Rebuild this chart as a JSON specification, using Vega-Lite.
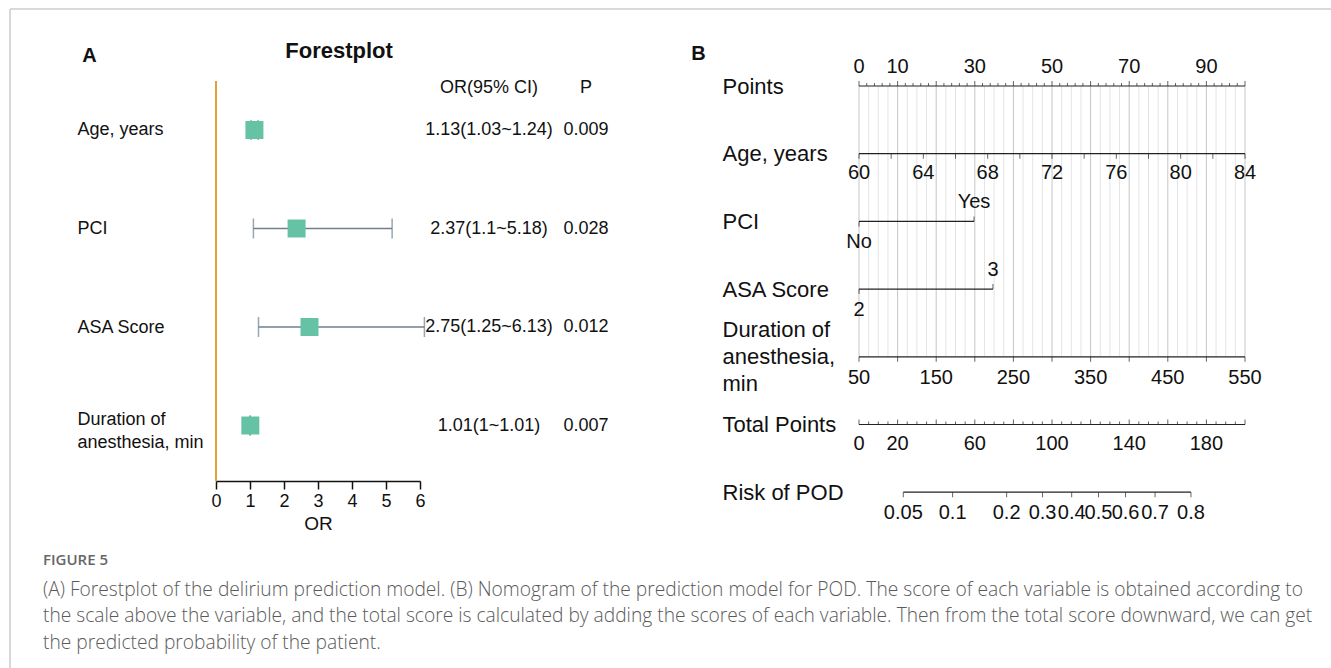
{
  "$schema": "https://vega.github.io/schema/vega-lite/v6.json",
  "padding": {"left": 9, "top": 8, "right": 0, "bottom": 0},
  "background": "white",
  "bounds": "flush",
  "spacing": 0,
  "config": {
    "view": {"stroke": null},
    "font": "Liberation Sans",
    "text": {"font": "Liberation Sans", "color": "#111111"},
    "axis": {"grid": false, "labelFont": "Liberation Sans", "titleFont": "Liberation Sans"}
  },
  "datasets": {
    "forest": [
      {"row": 1, "variable": "Age, years", "or": 1.13, "lo": 1.03, "hi": 1.24, "ci": "1.13(1.03~1.24)", "p": "0.009"},
      {"row": 2, "variable": "PCI", "or": 2.37, "lo": 1.1, "hi": 5.18, "ci": "2.37(1.1~5.18)", "p": "0.028"},
      {"row": 3, "variable": "ASA Score", "or": 2.75, "lo": 1.25, "hi": 6.13, "ci": "2.75(1.25~6.13)", "p": "0.012"},
      {"row": 4, "variable": "Duration of anesthesia, min", "or": 1.01, "lo": 1.0, "hi": 1.01, "ci": "1.01(1~1.01)", "p": "0.007"}
    ],
    "header": [{"col": "ci", "label": "OR(95% CI)"}, {"col": "p", "label": "P"}],
    "gridMinor": [{"v": 2.5}, {"v": 5}, {"v": 7.5}, {"v": 12.5}, {"v": 15}, {"v": 17.5}, {"v": 22.5}, {"v": 25}, {"v": 27.5}, {"v": 32.5}, {"v": 35}, {"v": 37.5}, {"v": 42.5}, {"v": 45}, {"v": 47.5}, {"v": 52.5}, {"v": 55}, {"v": 57.5}, {"v": 62.5}, {"v": 65}, {"v": 67.5}, {"v": 72.5}, {"v": 75}, {"v": 77.5}, {"v": 82.5}, {"v": 85}, {"v": 87.5}, {"v": 92.5}, {"v": 95}, {"v": 97.5}],
    "ptsMajor": [{"v": 0}, {"v": 10}, {"v": 20}, {"v": 30}, {"v": 40}, {"v": 50}, {"v": 60}, {"v": 70}, {"v": 80}, {"v": 90}, {"v": 100}],
    "ptsMinor": [{"v": 2}, {"v": 4}, {"v": 6}, {"v": 8}, {"v": 12}, {"v": 14}, {"v": 16}, {"v": 18}, {"v": 22}, {"v": 24}, {"v": 26}, {"v": 28}, {"v": 32}, {"v": 34}, {"v": 36}, {"v": 38}, {"v": 42}, {"v": 44}, {"v": 46}, {"v": 48}, {"v": 52}, {"v": 54}, {"v": 56}, {"v": 58}, {"v": 62}, {"v": 64}, {"v": 66}, {"v": 68}, {"v": 72}, {"v": 74}, {"v": 76}, {"v": 78}, {"v": 82}, {"v": 84}, {"v": 86}, {"v": 88}, {"v": 92}, {"v": 94}, {"v": 96}, {"v": 98}],
    "ptsLabels": [{"v": 0}, {"v": 10}, {"v": 30}, {"v": 50}, {"v": 70}, {"v": 90}],
    "catBase": [{"row": 2, "level": "No", "pts": 0}, {"row": 3, "level": "2", "pts": 0}],
    "catTop": [{"row": 2, "level": "Yes", "pts": 29.8}, {"row": 3, "level": "3", "pts": 34.7}],
    "ageTicks": [{"v": 60}, {"v": 62}, {"v": 64}, {"v": 66}, {"v": 68}, {"v": 70}, {"v": 72}, {"v": 74}, {"v": 76}, {"v": 78}, {"v": 80}, {"v": 82}, {"v": 84}],
    "ageLabels": [{"v": 60}, {"v": 64}, {"v": 68}, {"v": 72}, {"v": 76}, {"v": 80}, {"v": 84}],
    "durTicks": [{"v": 50}, {"v": 100}, {"v": 150}, {"v": 200}, {"v": 250}, {"v": 300}, {"v": 350}, {"v": 400}, {"v": 450}, {"v": 500}, {"v": 550}],
    "durLabels": [{"v": 50}, {"v": 150}, {"v": 250}, {"v": 350}, {"v": 450}, {"v": 550}],
    "totMinor": [{"v": 5}, {"v": 10}, {"v": 15}, {"v": 25}, {"v": 30}, {"v": 35}, {"v": 45}, {"v": 50}, {"v": 55}, {"v": 65}, {"v": 70}, {"v": 75}, {"v": 85}, {"v": 90}, {"v": 95}, {"v": 105}, {"v": 110}, {"v": 115}, {"v": 125}, {"v": 130}, {"v": 135}, {"v": 145}, {"v": 150}, {"v": 155}, {"v": 165}, {"v": 170}, {"v": 175}, {"v": 185}, {"v": 190}, {"v": 195}],
    "totMajor": [{"v": 0}, {"v": 20}, {"v": 40}, {"v": 60}, {"v": 80}, {"v": 100}, {"v": 120}, {"v": 140}, {"v": 160}, {"v": 180}, {"v": 200}],
    "totLabels": [{"v": 0}, {"v": 20}, {"v": 60}, {"v": 100}, {"v": 140}, {"v": 180}],
    "risk": [
      {"p": "0.05", "tp": 22.95}, {"p": "0.1", "tp": 48.5}, {"p": "0.2", "tp": 76.5}, {"p": "0.3", "tp": 95.1}, {"p": "0.4", "tp": 110.2},
      {"p": "0.5", "tp": 124.1}, {"p": "0.6", "tp": 138.1}, {"p": "0.7", "tp": 153.4}, {"p": "0.8", "tp": 172.0}
    ]
  },
  "hconcat": [
    {
      "width": 681,
      "height": 660,
      "title": {
        "text": "FIGURE 5",
        "subtitle": [
          "(A) Forestplot of the delirium prediction model. (B) Nomogram of the prediction model for POD. The score of each variable is obtained according to",
          "the scale above the variable, and the total score is calculated by adding the scores of each variable. Then from the total score downward, we can get",
          "the predicted probability of the patient."
        ],
        "orient": "bottom", "anchor": "start", "frame": "group", "offset": -117, "dx": 33,
        "baseline": "top", "font": "Open Sans", "fontSize": 15, "fontWeight": 600, "color": "#666666",
        "subtitleFont": "Open Sans", "subtitleFontSize": 19.2, "subtitleFontWeight": 300, "subtitleColor": "#5a5a5a", "subtitleLineHeight": 26.5, "subtitlePadding": 13
      },
      "layer": [
        {
          "data": {"name": "forest"},
          "layer": [
            {
              "mark": {"type": "rule", "color": "#6F7F8E", "strokeWidth": 1.5},
              "encoding": {
                "x": {"field": "lo", "type": "quantitative",
                  "scale": {"domain": [0, 6], "range": [206, 410], "nice": false, "zero": false},
                  "axis": {"values": [0, 1, 2, 3, 4, 5, 6], "format": "d", "title": "OR", "offset": -188, "tickSize": 8, "tickWidth": 1.5, "tickColor": "#111111", "domainColor": "#111111", "domainWidth": 1.5, "labelFontSize": 18, "labelColor": "#111111", "labelPadding": 3, "labelFlush": false, "labelOverlap": false, "titleFontSize": 19, "titleFontWeight": "normal", "titleColor": "#111111", "titlePadding": 4, "grid": false}},
                "x2": {"field": "hi"},
                "y": {"field": "row", "type": "quantitative",
                  "scale": {"domain": [-0.2284, 6.472], "reverse": true, "nice": false, "zero": false},
                  "axis": {"values": [1, 2, 3, 3.934],
                    "labelExpr": "datum.value < 1.5 ? 'Age, years' : datum.value < 2.5 ? 'PCI' : datum.value < 3.5 ? 'ASA Score' : ['Duration of', 'anesthesia, min']",
                    "labelAlign": "left", "labelBaseline": "middle", "labelPadding": -67, "labelFontSize": 18, "labelColor": "#111111", "labelLineHeight": 23,
                    "labelOverlap": false, "labelFlush": false, "labelBound": false, "ticks": false, "domain": false, "grid": false,
                    "title": "A", "titleAngle": 0, "titleX": 79, "titleY": 46, "titleAlign": "center", "titleBaseline": "middle", "titleFontSize": 20, "titleFontWeight": "bold", "titleColor": "#111111"}}
              }
            },
            {
              "data": {"values": [{}]},
              "mark": {"type": "rule", "color": "#E1A13A", "strokeWidth": 2},
              "encoding": {
                "x": {"datum": 0, "type": "quantitative"},
                "y": {"datum": 0.503, "type": "quantitative"},
                "y2": {"datum": 4.563}
              }
            },
            {
              "mark": {"type": "tick", "orient": "vertical", "size": 20, "thickness": 1.5, "color": "#6F7F8E"},
              "encoding": {"x": {"field": "lo", "type": "quantitative"}, "y": {"field": "row", "type": "quantitative"}}
            },
            {
              "mark": {"type": "tick", "orient": "vertical", "size": 20, "thickness": 1.5, "color": "#6F7F8E"},
              "encoding": {"x": {"field": "hi", "type": "quantitative"}, "y": {"field": "row", "type": "quantitative"}}
            },
            {
              "mark": {"type": "point", "shape": "square", "filled": true, "size": 324, "color": "#66C2A5", "opacity": 1},
              "encoding": {"x": {"field": "or", "type": "quantitative"}, "y": {"field": "row", "type": "quantitative"}}
            },
            {
              "data": {"values": [{}]},
              "mark": {"type": "text", "text": "Forestplot", "fontSize": 22, "fontWeight": "bold"},
              "encoding": {"x": {"datum": 3.62, "type": "quantitative"}, "y": {"datum": 0.198, "type": "quantitative"}}
            }
          ]
        },
        {
          "layer": [
            {
              "data": {"name": "header"},
              "mark": {"type": "text", "fontSize": 18},
              "encoding": {
                "x": {"field": "col", "type": "nominal", "scale": {"type": "point", "domain": ["ci", "p"], "range": [479, 576], "padding": 0}, "axis": null},
                "y": {"datum": 0.574, "type": "quantitative"},
                "text": {"field": "label", "type": "nominal"}
              }
            },
            {
              "data": {"name": "forest"},
              "mark": {"type": "text", "fontSize": 18},
              "encoding": {
                "x": {"datum": "ci", "type": "nominal", "axis": null},
                "y": {"field": "row", "type": "quantitative"},
                "text": {"field": "ci", "type": "nominal"}
              }
            },
            {
              "data": {"name": "forest"},
              "mark": {"type": "text", "fontSize": 18},
              "encoding": {
                "x": {"datum": "p", "type": "nominal", "axis": null},
                "y": {"field": "row", "type": "quantitative"},
                "text": {"field": "p", "type": "nominal"}
              }
            }
          ]
        },
        {
          "data": {"values": [{}]},
          "layer": [
            {"mark": {"type": "rule", "color": "#CCCCCC", "strokeWidth": 1.5}, "encoding": {"x": {"value": 0}}},
            {"mark": {"type": "rule", "color": "#CCCCCC", "strokeWidth": 1.5}, "encoding": {"y": {"value": 0}}}
          ]
        }
      ],
      "resolve": {"scale": {"x": "independent"}, "axis": {"x": "independent"}}
    },
    {
      "width": 641,
      "height": 660,
      "layer": [
        {
          "layer": [
            {
              "data": {"name": "gridMinor"},
              "mark": {"type": "rule", "color": "#E4E4E4", "strokeWidth": 1},
              "encoding": {"x": {"field": "v", "type": "quantitative", "scale": {"domain": [0, 100], "range": [168, 554], "nice": false, "zero": false}, "axis": null}, "y": {"datum": 0, "type": "quantitative"}, "y2": {"datum": 4}}
            },
            {
              "data": {"name": "ptsMajor"},
              "mark": {"type": "rule", "color": "#C6C6C6", "strokeWidth": 1},
              "encoding": {"x": {"field": "v", "type": "quantitative", "axis": null}, "y": {"datum": 0, "type": "quantitative"}, "y2": {"datum": 4}}
            },
            {
              "data": {"values": [{}]},
              "mark": {"type": "rule", "color": "#222222", "strokeWidth": 1.2},
              "encoding": {"x": {"datum": 0, "type": "quantitative", "axis": null}, "x2": {"datum": 100}, "y": {"datum": 0, "type": "quantitative"}}
            },
            {
              "data": {"name": "ptsMajor"},
              "mark": {"type": "tick", "orient": "vertical", "size": 5, "thickness": 1, "color": "#222222", "yOffset": -2.5},
              "encoding": {"x": {"field": "v", "type": "quantitative", "axis": null}, "y": {"datum": 0, "type": "quantitative"}}
            },
            {
              "data": {"name": "ptsMinor"},
              "mark": {"type": "tick", "orient": "vertical", "size": 3, "thickness": 1, "color": "#222222", "yOffset": -1.5},
              "encoding": {"x": {"field": "v", "type": "quantitative", "axis": null}, "y": {"datum": 0, "type": "quantitative"}}
            },
            {
              "data": {"name": "ptsLabels"},
              "mark": {"type": "text", "fontSize": 20, "dy": -19},
              "encoding": {"x": {"field": "v", "type": "quantitative", "axis": null}, "y": {"datum": 0, "type": "quantitative"}, "text": {"field": "v", "type": "quantitative", "format": "d"}}
            },
            {
              "data": {"name": "catTop"},
              "mark": {"type": "rule", "color": "#222222", "strokeWidth": 1.2},
              "encoding": {
                "x": {"field": "pts", "type": "quantitative", "axis": null},
                "x2": {"datum": 0},
                "y": {"field": "row", "type": "quantitative",
                  "scale": {"domain": [-1.1374, 8.6115], "reverse": true, "nice": false, "zero": false},
                  "axis": {"values": [0, 1, 2, 3, 3.604, 5, 6],
                    "labelExpr": "datum.value < 0.5 ? 'Points' : datum.value < 1.5 ? 'Age, years' : datum.value < 2.5 ? 'PCI' : datum.value < 3.3 ? 'ASA Score' : datum.value < 4.5 ? ['Duration of', 'anesthesia,', 'min'] : datum.value < 5.5 ? 'Total Points' : 'Risk of POD'",
                    "labelAlign": "left", "labelBaseline": "middle", "labelPadding": -31, "labelFontSize": 22, "labelColor": "#111111", "labelLineHeight": 27,
                    "labelOverlap": false, "labelFlush": false, "labelBound": false, "ticks": false, "domain": false, "grid": false,
                    "title": "B", "titleAngle": 0, "titleX": 7, "titleY": 44, "titleAlign": "center", "titleBaseline": "middle", "titleFontSize": 20, "titleFontWeight": "bold", "titleColor": "#111111"}}
              }
            },
            {
              "data": {"name": "catBase"},
              "mark": {"type": "tick", "orient": "vertical", "size": 5, "thickness": 1, "color": "#222222", "yOffset": 2.5},
              "encoding": {"x": {"field": "pts", "type": "quantitative", "axis": null}, "y": {"field": "row", "type": "quantitative"}}
            },
            {
              "data": {"name": "catTop"},
              "mark": {"type": "tick", "orient": "vertical", "size": 5, "thickness": 1, "color": "#222222", "yOffset": -2.5},
              "encoding": {"x": {"field": "pts", "type": "quantitative", "axis": null}, "y": {"field": "row", "type": "quantitative"}}
            },
            {
              "data": {"name": "catBase"},
              "mark": {"type": "text", "fontSize": 20, "dy": 21},
              "encoding": {"x": {"field": "pts", "type": "quantitative", "axis": null}, "y": {"field": "row", "type": "quantitative"}, "text": {"field": "level", "type": "nominal"}}
            },
            {
              "data": {"name": "catTop"},
              "mark": {"type": "text", "fontSize": 20, "dy": -19},
              "encoding": {"x": {"field": "pts", "type": "quantitative", "axis": null}, "y": {"field": "row", "type": "quantitative"}, "text": {"field": "level", "type": "nominal"}}
            }
          ]
        },
        {
          "layer": [
            {
              "data": {"name": "ageTicks"},
              "mark": {"type": "tick", "orient": "vertical", "size": 5, "thickness": 1, "color": "#222222", "yOffset": 2.5},
              "encoding": {"x": {"field": "v", "type": "quantitative", "scale": {"domain": [60, 84], "range": [168, 554], "nice": false, "zero": false}, "axis": null}, "y": {"datum": 1, "type": "quantitative"}}
            },
            {
              "data": {"values": [{}]},
              "mark": {"type": "rule", "color": "#222222", "strokeWidth": 1.2},
              "encoding": {"x": {"datum": 60, "type": "quantitative", "axis": null}, "x2": {"datum": 84}, "y": {"datum": 1, "type": "quantitative"}}
            },
            {
              "data": {"name": "ageLabels"},
              "mark": {"type": "text", "fontSize": 20, "dy": 19},
              "encoding": {"x": {"field": "v", "type": "quantitative", "axis": null}, "y": {"datum": 1, "type": "quantitative"}, "text": {"field": "v", "type": "quantitative", "format": "d"}}
            }
          ]
        },
        {
          "layer": [
            {
              "data": {"name": "durTicks"},
              "mark": {"type": "tick", "orient": "vertical", "size": 5, "thickness": 1, "color": "#222222", "yOffset": 2.5},
              "encoding": {"x": {"field": "v", "type": "quantitative", "scale": {"domain": [50, 550], "range": [168, 554], "nice": false, "zero": false}, "axis": null}, "y": {"datum": 4, "type": "quantitative"}}
            },
            {
              "data": {"values": [{}]},
              "mark": {"type": "rule", "color": "#222222", "strokeWidth": 1.2},
              "encoding": {"x": {"datum": 50, "type": "quantitative", "axis": null}, "x2": {"datum": 550}, "y": {"datum": 4, "type": "quantitative"}}
            },
            {
              "data": {"name": "durLabels"},
              "mark": {"type": "text", "fontSize": 20, "dy": 21},
              "encoding": {"x": {"field": "v", "type": "quantitative", "axis": null}, "y": {"datum": 4, "type": "quantitative"}, "text": {"field": "v", "type": "quantitative", "format": "d"}}
            }
          ]
        },
        {
          "layer": [
            {
              "data": {"name": "totMajor"},
              "mark": {"type": "tick", "orient": "vertical", "size": 5, "thickness": 1, "color": "#222222", "yOffset": -2.5},
              "encoding": {"x": {"field": "v", "type": "quantitative", "scale": {"domain": [0, 200], "range": [168, 554], "nice": false, "zero": false}, "axis": null}, "y": {"datum": 5, "type": "quantitative"}}
            },
            {
              "data": {"values": [{}]},
              "mark": {"type": "rule", "color": "#222222", "strokeWidth": 1.2},
              "encoding": {"x": {"datum": 0, "type": "quantitative", "axis": null}, "x2": {"datum": 200}, "y": {"datum": 5, "type": "quantitative"}}
            },
            {
              "data": {"name": "totMinor"},
              "mark": {"type": "tick", "orient": "vertical", "size": 3, "thickness": 1, "color": "#222222", "yOffset": -1.5},
              "encoding": {"x": {"field": "v", "type": "quantitative", "axis": null}, "y": {"datum": 5, "type": "quantitative"}}
            },
            {
              "data": {"name": "totLabels"},
              "mark": {"type": "text", "fontSize": 20, "dy": 19},
              "encoding": {"x": {"field": "v", "type": "quantitative", "axis": null}, "y": {"datum": 5, "type": "quantitative"}, "text": {"field": "v", "type": "quantitative", "format": "d"}}
            },
            {
              "data": {"name": "risk"},
              "mark": {"type": "rule", "color": "#222222", "strokeWidth": 1.2},
              "encoding": {"x": {"aggregate": "min", "field": "tp", "type": "quantitative", "axis": null}, "x2": {"aggregate": "max", "field": "tp"}, "y": {"datum": 6, "type": "quantitative"}}
            },
            {
              "data": {"name": "risk"},
              "mark": {"type": "tick", "orient": "vertical", "size": 5, "thickness": 1, "color": "#222222", "yOffset": 2.5},
              "encoding": {"x": {"field": "tp", "type": "quantitative", "axis": null}, "y": {"datum": 6, "type": "quantitative"}}
            },
            {
              "data": {"name": "risk"},
              "mark": {"type": "text", "fontSize": 20, "dy": 21},
              "encoding": {"x": {"field": "tp", "type": "quantitative", "axis": null}, "y": {"datum": 6, "type": "quantitative"}, "text": {"field": "p", "type": "nominal"}}
            }
          ]
        },
        {
          "data": {"values": [{}]},
          "mark": {"type": "rule", "color": "#CCCCCC", "strokeWidth": 1.5},
          "encoding": {"y": {"value": 0}}
        }
      ],
      "resolve": {"scale": {"x": "independent"}, "axis": {"x": "independent"}}
    }
  ]
}
